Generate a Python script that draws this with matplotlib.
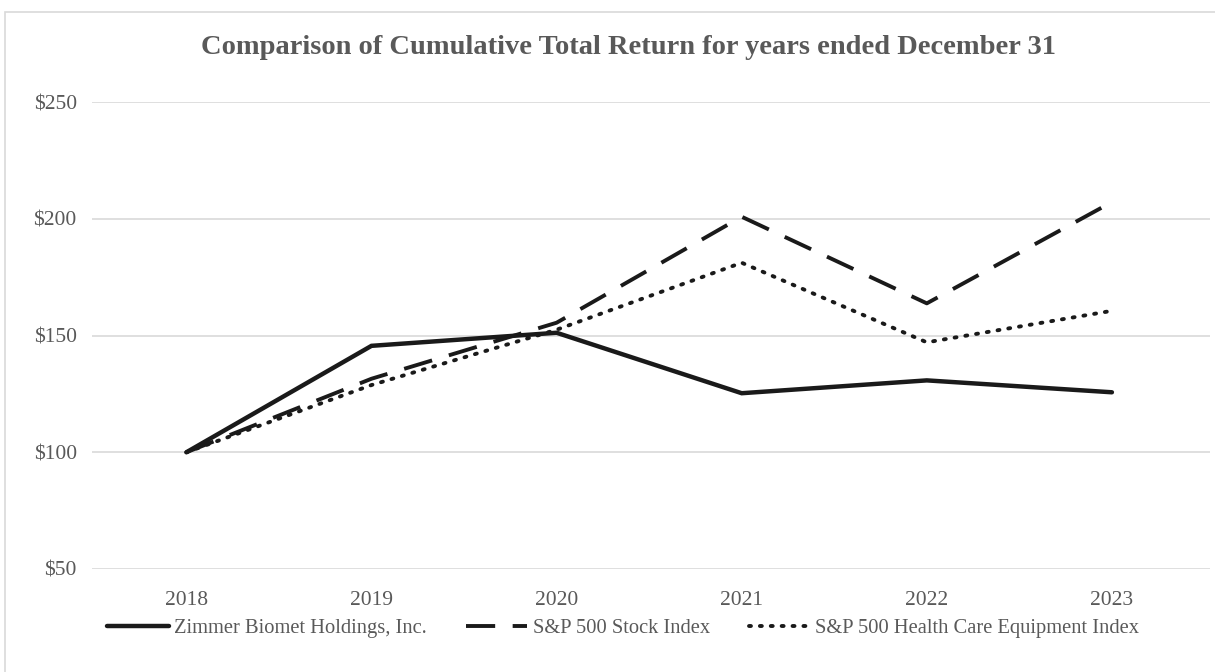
import matplotlib
matplotlib.use("Agg")
import matplotlib.pyplot as plt
from matplotlib.patches import Rectangle

years = ["2018", "2019", "2020", "2021", "2022", "2023"]
zimmer = [100, 145.6, 151.2, 125.3, 130.8, 125.7]
sp500 = [100, 131.5, 155.5, 200.9, 163.8, 207.2]
hc_equip = [100, 128.8, 152.5, 181.2, 147.1, 160.6]
series_names = ["Zimmer Biomet Holdings, Inc.", "S&P 500 Stock Index",
                "S&P 500 Health Care Equipment Index"]
yticks = [50, 100, 150, 200, 250]

plt.rcParams['font.family'] = ['Liberation Serif', 'DejaVu Serif']
grey = '#595959'

fig = plt.figure(figsize=(12.15, 6.72), dpi=100)
fig.patches.append(Rectangle((0.004, -0.1), 1.2, 1.082, transform=fig.transFigure,
                             fill=False, edgecolor='#d9d9d9', linewidth=1.2))
ax = fig.add_axes([0.0757, 0.1533, 0.9202, 0.6947])

x = list(range(len(years)))
ax.plot(x, zimmer, color='#1a1a1a', lw=3.2, solid_capstyle='round',
        solid_joinstyle='miter', label=series_names[0])
ax.plot(x, sp500, color='#1a1a1a', lw=2.8, dashes=(7.5, 4.5), label=series_names[1])
ax.plot(x, hc_equip, color='#1a1a1a', lw=2.8, dashes=(0.5, 2.3),
        dash_capstyle='round', label=series_names[2])

ax.set_xlim(-0.51, 5.53)
ax.set_ylim(50, 250)
ax.set_yticks(yticks)
ax.set_yticklabels([f"${v}" for v in yticks])
ax.set_xticks(x)
ax.set_xticklabels(years)
ax.grid(axis='y', color='#d9d9d9', lw=1.2)
ax.set_axisbelow(True)
for s in ax.spines.values():
    s.set_visible(False)
ax.tick_params(axis='both', length=0, labelsize=15.5, labelcolor=grey)
ax.tick_params(axis='y', pad=11)
ax.tick_params(axis='x', pad=16)

fig.text(0.517, 0.93, "Comparison of Cumulative Total Return for years ended December 31",
         ha='center', va='center', fontsize=20.5, fontweight='bold', color=grey)

leg = fig.legend(loc='center', bbox_to_anchor=(0.513, 0.065), ncol=3, frameon=False,
                 fontsize=14.8, handlelength=3.0, handletextpad=0.25, columnspacing=1.9,
                 labelcolor=grey)

fig.savefig("out.png", dpi=100, facecolor='white')
